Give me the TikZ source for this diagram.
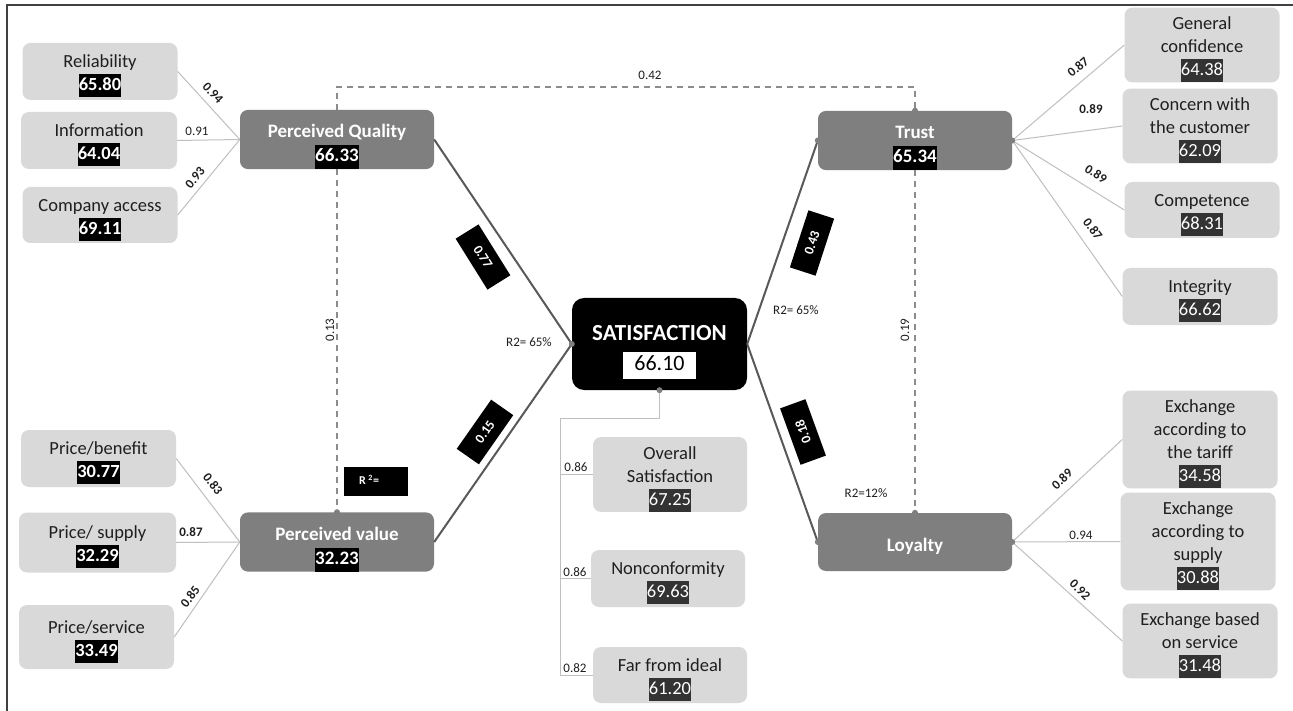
\documentclass[tikz,border=0pt]{standalone}
\usepackage{fontspec}
\setmainfont{Carlito}
\usetikzlibrary{calc}
\definecolor{indfill}{HTML}{D9D9D9}
\definecolor{latfill}{HTML}{7F7F7F}
\definecolor{pathline}{HTML}{595959}
\definecolor{dashline}{HTML}{8C8C8C}
\definecolor{indline}{HTML}{BFBFBF}
\definecolor{valgrey}{HTML}{333333}
\definecolor{txtdark}{HTML}{1F1F1F}
\definecolor{framecol}{HTML}{404040}
\newcommand\ValK[1]{{\fboxsep=0pt\colorbox{black}{\strut\textcolor{white}{\bfseries #1}}}}
\newcommand\ValG[1]{{\fboxsep=0pt\colorbox{valgrey}{\strut\textcolor{white}{#1}}}}
\newcommand\LatTop{\rule{0pt}{28pt}}
\newcommand\IndTop{\rule{0pt}{22pt}}
\tikzset{
  ind/.style={fill=indfill, rounded corners=8pt, minimum width=155pt, align=center,
    font=\fontsize{18.5}{23}\selectfont, text=txtdark, inner sep=0pt},
  lat/.style={fill=latfill, rounded corners=8pt, minimum width=194pt, minimum height=57pt,
    align=center, font=\fontsize{19}{24}\selectfont\bfseries, text=white, inner sep=0pt},
  coef/.style={font=\fontsize{13}{15}\selectfont, text=txtdark, inner sep=1pt},
  coefb/.style={font=\fontsize{13}{15}\selectfont\bfseries, text=txtdark, inner sep=1pt},
  pathbox/.style={fill=black, text=white, font=\fontsize{13.5}{15}\selectfont\bfseries,
    minimum width=60pt, minimum height=27pt, inner sep=0pt},
  rtwo/.style={font=\fontsize{13}{15}\selectfont, text=txtdark, inner sep=1pt},
  structural/.style={draw=pathline, line width=2pt},
  dashedlink/.style={draw=dashline, line width=1.4pt, dash pattern=on 6pt off 5pt},
  indlink/.style={draw=indline, line width=1pt},
  dotmark/.style={circle, fill=latfill, inner sep=0pt, minimum size=6pt}
}
\begin{document}
\begin{tikzpicture}[x=1pt,y=-1pt]
\useasboundingbox (0,0) rectangle (1293,711);
\fill[white] (0,0) rectangle (1293,711);
\draw[framecol, line width=2pt] (7,711) -- (7,5) -- (1293,5);

% left indicators
\node[ind, minimum height=57pt] (rel) at (100,71.5) {\IndTop Reliability\\\ValK{65.80}};
\node[ind, minimum height=57pt, minimum width=156pt] (inf) at (99,140.5) {\IndTop Information\\\ValK{64.04}};
\node[ind, minimum height=56pt] (comp) at (100,215) {\IndTop Company access\\\ValK{69.11}};
\node[ind, minimum height=57pt] (pb) at (98.5,458.5) {\IndTop Price/benefit\\\ValK{30.77}};
\node[ind, minimum height=60pt, minimum width=157pt] (ps) at (97.5,542.5) {\IndTop Price/ supply\\\ValK{32.29}};
\node[ind, minimum height=64pt] (psv) at (96.5,637) {\IndTop Price/service\\\ValK{33.49}};

% latent variables
\node[lat] (pq) at (337,139.5) {\LatTop Perceived Quality\\\ValK{66.33}};
\node[lat, minimum height=58pt] (pv) at (337,542) {\LatTop Perceived value\\\ValK{32.23}};
\node[lat] (trust) at (915,140.5) {\LatTop Trust\\\ValK{65.34}};
\node[lat, minimum height=58pt] (loy) at (915,542) {\rule{0pt}{22pt}Loyalty};
\node[fill=black, rounded corners=12pt, minimum width=175pt, minimum height=92pt, align=center,
  text=white, inner sep=0pt, font=\fontsize{23}{30}\selectfont\bfseries] (sat) at (659.5,344)
  {\rule{0pt}{31pt}SATISFACTION\\{\fboxsep=3pt\colorbox{white}{\rule[-6pt]{0pt}{20pt}\makebox[67pt]{\fontsize{22}{26}\selectfont\mdseries\textcolor{black}{66.10}}}}};

% right indicators
\node[ind, minimum height=56pt] (gc) at (1202,45) {\IndTop General\\confidence\\\ValG{64.38}};
\node[ind, minimum height=72pt] (cc) at (1200,126) {\IndTop Concern with\\the customer\\\ValG{62.09}};
\node[ind, minimum height=56pt] (cp) at (1202,210) {\IndTop Competence\\\ValG{68.31}};
\node[ind, minimum height=57pt] (ig) at (1200,296.5) {\IndTop Integrity\\\ValG{66.62}};
\node[ind, minimum height=95pt] (et) at (1200,439.5) {\IndTop Exchange\\according to\\the tariff\\\ValG{34.58}};
\node[ind, minimum height=93pt] (es) at (1198,541.5) {\IndTop Exchange\\according to\\supply\\\ValG{30.88}};
\node[ind, minimum height=72pt] (eb) at (1200,641) {\IndTop Exchange based\\on service\\\ValG{31.48}};

% satisfaction indicators
\node[ind, minimum height=57pt, minimum width=154pt] (os) at (670,474.5) {\IndTop Overall\\Satisfaction\\\ValG{67.25}};
\node[ind, minimum height=57pt, minimum width=154pt] (nc) at (668,578.5) {\IndTop Nonconformity\\\ValG{69.63}};
\node[ind, minimum height=56pt, minimum width=154pt] (ff) at (670,675) {\IndTop Far from ideal\\\ValG{61.20}};

% indicator links
\draw[indlink] (rel.east) -- (pq.west);
\draw[indlink] (inf.east) -- (pq.west);
\draw[indlink] (comp.east) -- (pq.west);
\draw[indlink] (pb.east) -- (pv.west);
\draw[indlink] (ps.east) -- (pv.west);
\draw[indlink] (psv.east) -- (pv.west);
\draw[indlink] (trust.east) -- (gc.west);
\draw[indlink] (trust.east) -- (cc.west);
\draw[indlink] (trust.east) -- (cp.west);
\draw[indlink] (trust.east) -- (ig.west);
\draw[indlink] (loy.east) -- (et.west);
\draw[indlink] (loy.east) -- (es.west);
\draw[indlink] (loy.east) -- (eb.west);
\coordinate (sa) at (659.5,418);
\coordinate (sb) at (560,418);
\draw[indlink] (sat.south) -- (sa) -- (sb) -- (sb |- ff.west) -- (ff.west);
\draw[indlink] (sb |- os.west) -- (os.west);
\draw[indlink] (sb |- nc.west) -- (nc.west);

% structural paths
\draw[structural] (pq.east) -- (sat.west);
\draw[structural] (pv.east) -- (sat.west);
\draw[structural] (sat.east) -- (trust.west);
\draw[structural] (sat.east) -- (loy.west);

% dashed paths
\coordinate (da) at (337,87);
\coordinate (db) at (915,87);
\draw[dashedlink] (pq.north) -- (da) -- (db) -- (trust.north);
\draw[dashedlink] (pq.south) -- (pv.north);
\draw[dashedlink] (trust.south) -- (loy.north);

% dots
\node[dotmark] (m1) at (sat.west) {};
\node[dotmark] (m2) at (sat.south) {};
\node[dotmark] (m3) at (trust.west) {};
\node[dotmark] (m4) at (trust.north) {};
\node[dotmark] (m5) at (trust.east) {};
\node[dotmark] (m6) at (loy.west) {};
\node[dotmark] (m7) at (loy.north) {};
\node[dotmark] (m8) at (loy.east) {};
\node[dotmark] (m9) at (pv.north) {};

% coefficient boxes
\node[pathbox, rotate=-58] (c1) at (483,257) {0.77};
\node[pathbox, rotate=55] (c2) at (485,432) {0.15};
\node[pathbox, rotate=72] (c3) at (812,243) {0.43};
\node[pathbox, rotate=110] (c4) at (803,432) {0.18};

% R2 labels
\node[rtwo] (r1) at (529,342) {R2= 65\%};
\node[rtwo] (r2) at (796,310) {R2= 65\%};
\node[rtwo] (r3) at (866,493) {R2=12\%};
\node[fill=black, minimum width=64pt, minimum height=29pt, inner sep=0pt] (r2box) at (376,481.5) {};
\node[font=\fontsize{12}{14}\selectfont\bfseries, text=white, inner sep=0pt] (r2txt) at (369,480) {R \textsuperscript{2}=};

% loadings
\node[coefb, rotate=-47] (l1) at (213,93) {0.94};
\node[coef] (l2) at (197,131) {0.91};
\node[coefb, rotate=50] (l3) at (195,178) {0.93};
\node[coefb, rotate=-52] (l4) at (213,484) {0.83};
\node[coefb] (l5) at (191,532) {0.87};
\node[coefb, rotate=53] (l6) at (190,597) {0.85};
\node[coefb, rotate=40] (l7) at (1078,67) {0.87};
\node[coefb] (l8) at (1091,109) {0.89};
\node[coefb, rotate=-33] (l9) at (1096,174) {0.89};
\node[coefb, rotate=-53] (l10) at (1093,229) {0.87};
\node[coefb, rotate=43] (l11) at (1062,479) {0.89};
\node[coef] (l12) at (1081,535) {0.94};
\node[coefb, rotate=-45] (l13) at (1080,590) {0.92};
\node[coef] (l14) at (576,467) {0.86};
\node[coef] (l15) at (575,572) {0.86};
\node[coef] (l16) at (575,668) {0.82};

% dashed path labels
\node[coef] (p1) at (650,75) {0.42};
\node[coef, rotate=90] (p2) at (330,330) {0.13};
\node[coef, rotate=90] (p3) at (905,330) {0.19};
\end{tikzpicture}
\end{document}
